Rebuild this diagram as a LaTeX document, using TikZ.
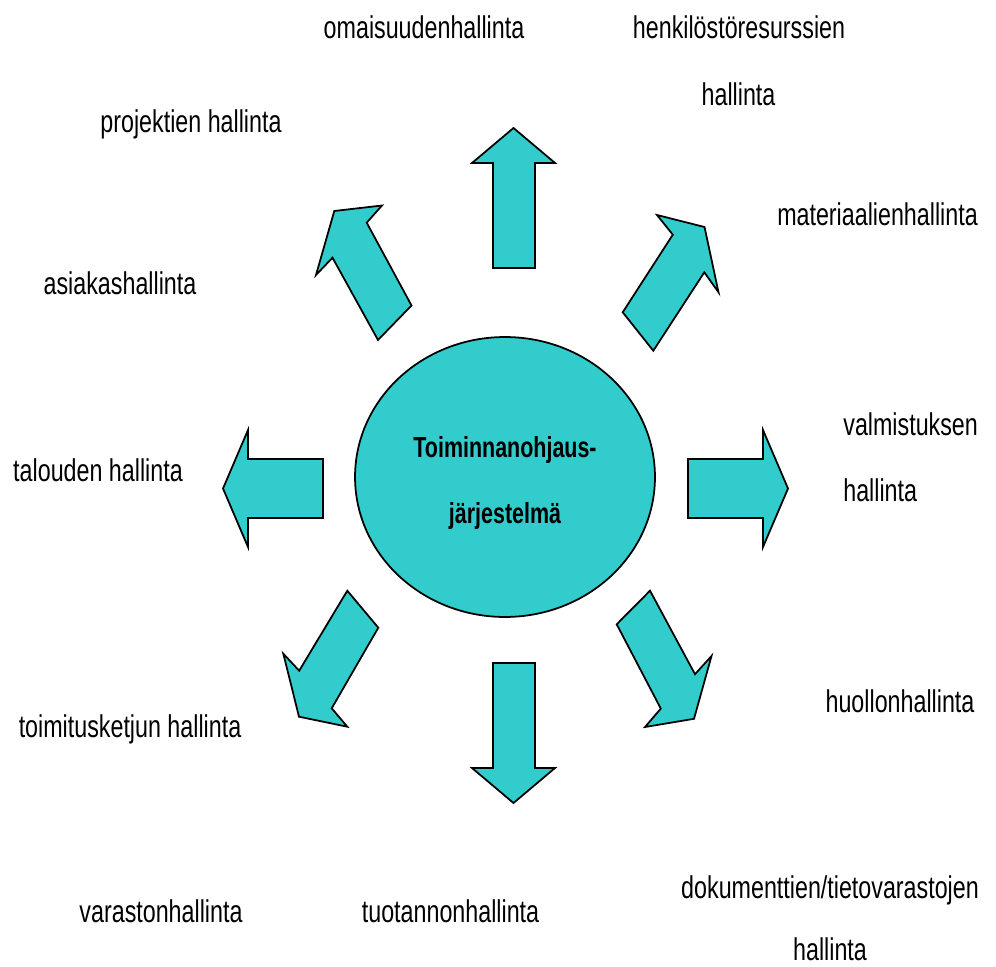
\documentclass[tikz,border=0pt]{standalone}
\usepackage{fontspec}
\setmainfont{Liberation Sans}[FakeStretch=0.74]
\usepackage{tikz}
\usetikzlibrary{shapes.geometric}
\definecolor{erpcyan}{HTML}{33CCCC}
\tikzstyle{func} = [inner sep=0pt, anchor=base, font=\fontsize{17.9}{21}\selectfont]
\tikzstyle{core} = [ellipse, draw, fill=erpcyan, line width=1pt, inner sep=0pt,
    minimum width=6cm, minimum height=5.6cm]
\tikzstyle{corename} = [inner sep=0pt, anchor=base, font=\fontsize{16.5}{20}\selectfont\bfseries]
\tikzstyle{bigarrow} = [draw, fill=erpcyan, line width=1pt, line join=miter]

\begin{document}
\begin{tikzpicture}[x=0.02cm,y=-0.02cm]
    \useasboundingbox (0,0) rectangle (996,966);
    % Centre
    \node[core] (erp) at (505,477) {};
    \node[corename] (erp1) at (505,457) {Toiminnanohjaus-};
    \node[corename] (erp2) at (505,523) {järjestelmä};
    % Draw arrows
    \path[bigarrow] (493,268) -- (493,163) -- (472,163) -- (513.5,128) -- (555,163) -- (535,163) -- (535,268) -- cycle;
    \path[bigarrow] (493,663) -- (535,663) -- (535,768) -- (555,768) -- (513.5,803) -- (472,768) -- (493,768) -- cycle;
    \path[bigarrow] (323,459) -- (248,459) -- (248,430) -- (223,488.5) -- (248,547) -- (248,518) -- (323,518) -- cycle;
    \path[bigarrow] (688,459) -- (763,459) -- (763,430) -- (788,488.5) -- (763,547) -- (763,518) -- (688,518) -- cycle;
    \path[bigarrow] (411.5,305.5) -- (378,340) -- (332.5,257.7) -- (316,275) -- (334.3,211) -- (382,205.5) -- (366.7,222.7) -- cycle;
    \path[bigarrow] (622.7,312.3) -- (672.8,234.7) -- (657,215) -- (704.5,227) -- (718.5,292.3) -- (704.3,272.3) -- (653.3,350.7) -- cycle;
    \path[bigarrow] (347.3,590.7) -- (378.3,627.7) -- (331.7,708.3) -- (347.3,726.7) -- (299,716.7) -- (283.3,653.7) -- (299.2,670.7) -- cycle;
    \path[bigarrow] (650,590.7) -- (616.7,624.3) -- (660.8,708.6) -- (645,727) -- (694,718.8) -- (711.5,656) -- (695,674.2) -- cycle;
    % Place labels
    \node[func] (omaisuus) at (424,39) {omaisuudenhallinta};
    \node[func] (henkilo1) at (739,39) {henkilöstöresurssien};
    \node[func] (henkilo2) at (738.5,106) {hallinta};
    \node[func] (projekti) at (191,133) {projektien hallinta};
    \node[func] (materiaali) at (877.5,225) {materiaalienhallinta};
    \node[func] (asiakas) at (120,294) {asiakashallinta};
    \node[func,anchor=base west] (valmistus1) at (843,435) {valmistuksen};
    \node[func,anchor=base west] (valmistus2) at (843,501) {hallinta};
    \node[func] (talous) at (98,481) {talouden hallinta};
    \node[func] (huolto) at (900,712) {huollonhallinta};
    \node[func] (toimitus) at (130,737) {toimitusketjun hallinta};
    \node[func] (dokumentti1) at (830,898) {dokumenttien/tietovarastojen};
    \node[func] (dokumentti2) at (830,960) {hallinta};
    \node[func] (varasto) at (161,922) {varastonhallinta};
    \node[func] (tuotanto) at (450.5,922) {tuotannonhallinta};
\end{tikzpicture}
\end{document}
